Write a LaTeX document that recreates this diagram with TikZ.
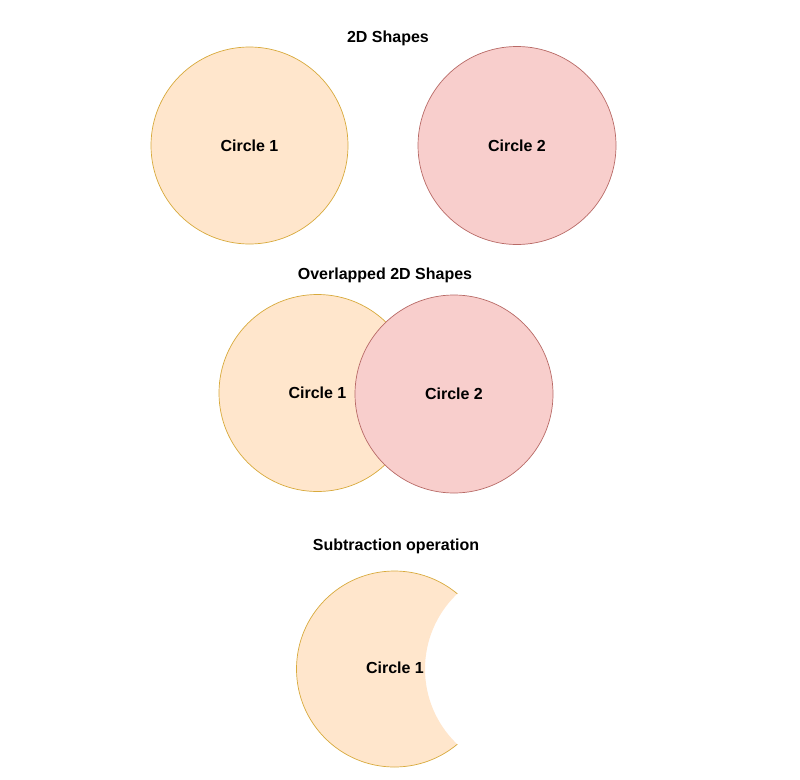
\documentclass[tikz,border=0pt]{standalone}
\usepackage{fontspec}
\setmainfont{Liberation Sans}
\begin{document}
\begin{tikzpicture}[x=1pt,y=-1pt,
  orangec/.style={circle,draw=orangeline,fill=orangefill,line width=0.7pt,inner sep=0pt,minimum size=197pt},
  redc/.style={circle,draw=redline,fill=redfill,line width=0.7pt,inner sep=0pt,minimum size=198pt},
  lbl/.style={font=\fontsize{16}{19}\selectfont\bfseries,text=black,inner sep=0pt}]
\definecolor{orangefill}{HTML}{FFE6CC}
\definecolor{orangeline}{HTML}{D8AA3C}
\definecolor{redfill}{HTML}{F8CECC}
\definecolor{redline}{HTML}{B86A66}
\useasboundingbox[fill=white] (0,0) rectangle (800,779);
% titles
\node[lbl] (t1) at (388,38) {2D Shapes};
\node[lbl] (t2) at (385,275) {Overlapped 2D Shapes};
\node[lbl] (t3) at (396,546) {Subtraction operation};
% separate circles
\node[orangec] (a1) at (249.5,145.5) {};
\node[lbl] at (a1) {Circle 1};
\node[redc] (a2) at (517,145.5) {};
\node[lbl] at (a2) {Circle 2};
% overlapped
\node[orangec] (b1) at (317.5,393) {};
\node[lbl] at (b1) {Circle 1};
\node[redc] (b2) at (454,394) {};
\node[lbl] at (b2) {Circle 2};
% subtraction
\coordinate (cut) at (529,669);
\begin{scope}[even odd rule]
  \clip (0,0) rectangle (800,779) (cut) circle[radius=104];
  \node[orangec,minimum size=196pt] (s1) at (394.5,669) {};
\end{scope}
\node[lbl] (s1l) at (395,668) {Circle 1};
\end{tikzpicture}
\end{document}
